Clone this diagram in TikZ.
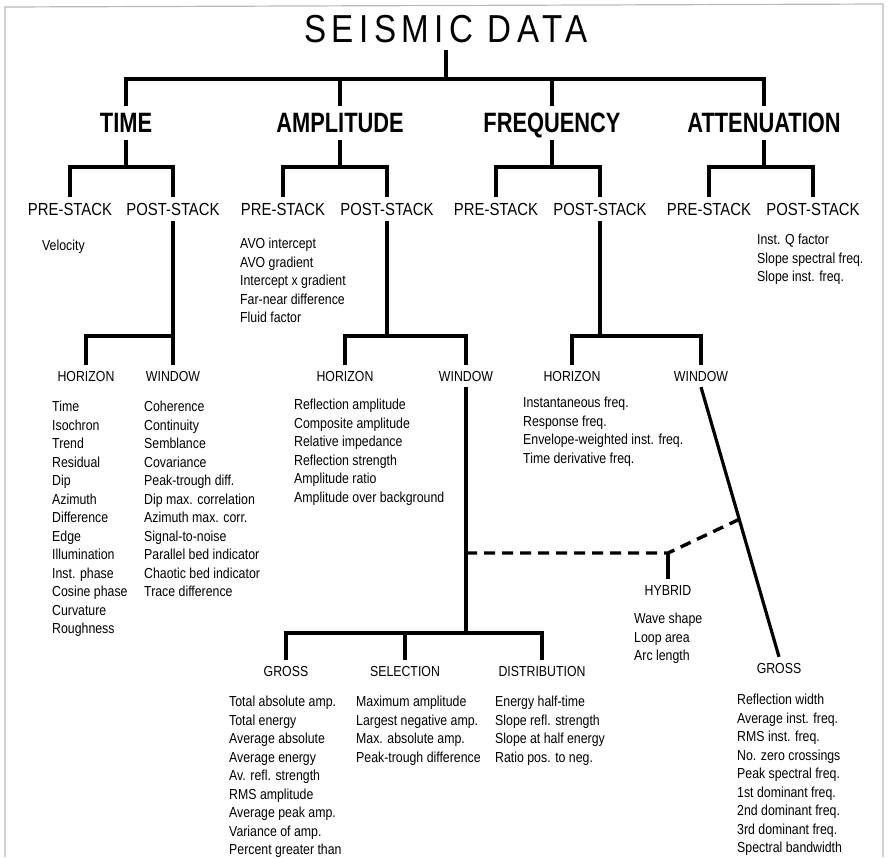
\documentclass[tikz,border=0pt]{standalone}
\usepackage{fontspec}
\setmainfont{Liberation Sans}[FakeStretch=0.85]
\newfontfamily\titlefont{Liberation Sans}[FakeStretch=0.85,LetterSpace=14]
\newfontfamily\catfont{Liberation Sans}[FakeStretch=0.78]
\usetikzlibrary{calc}
\begin{document}
\begin{tikzpicture}[x=1pt,y=-1pt,
    tree/.style={line width=3.2pt},
    link/.style={line width=3.4pt,dash pattern=on 11pt off 7pt},
    cat/.style={font=\catfont\bfseries\fontsize{28}{30}\selectfont,inner sep=0pt,outer sep=7pt,text depth=0pt},
    stack/.style={font=\fontsize{17.5}{20}\selectfont,inner sep=0pt,outer sep=6pt},
    sub/.style={font=\fontsize{14.5}{18.5}\selectfont,inner sep=0pt,outer sep=6pt},
    lst/.style={font=\fontsize{14.5}{18.5}\selectfont,inner sep=0pt,anchor=north west,align=left}]
    \useasboundingbox (0,0) rectangle (890,857);
    % scanned page edges
    \draw[gray!55,line width=1.2pt] (5,857) -- (5,7) -- (883,4) -- (883,857);
    % bar heights
    \coordinate (bar1) at (0,79);
    \coordinate (bar2) at (0,167);
    \coordinate (bar3) at (0,336);
    \coordinate (bar4) at (0,633);
    % title and the four attribute families
    \node[inner sep=0pt,outer sep=7pt,font=\titlefont\fontsize{39}{42}\selectfont] (title) at (446,29) {SEISMIC DATA};
    \node[cat] (time)  at (126,123) {TIME};
    \node[cat] (amp)   at (340,123) {AMPLITUDE};
    \node[cat] (freq)  at (552,123) {FREQUENCY};
    \node[cat] (atten) at (764,123) {ATTENUATION};
    \draw[tree] (title.south) -- (title |- bar1);
    \draw[tree] (time.north) -- (time |- bar1) -- (atten |- bar1) -- (atten.north);
    \draw[tree] (amp.north) -- (amp |- bar1);
    \draw[tree] (freq.north) -- (freq |- bar1);
    % pre-stack / post-stack
    \node[stack] (timepre)   at (70,209)  {PRE-STACK};
    \node[stack] (timepost)  at (173,209) {POST-STACK};
    \node[stack] (amppre)    at (283,209) {PRE-STACK};
    \node[stack] (amppost)   at (387,209) {POST-STACK};
    \node[stack] (freqpre)   at (496,209) {PRE-STACK};
    \node[stack] (freqpost)  at (600,209) {POST-STACK};
    \node[stack] (attenpre)  at (709,209) {PRE-STACK};
    \node[stack] (attenpost) at (813,209) {POST-STACK};
    \foreach \fam in {time,amp,freq,atten} {
        \draw[tree] (\fam.south) -- (\fam |- bar2);
        \draw[tree] (\fam pre.north) -- (\fam pre |- bar2) -- (\fam post |- bar2) -- (\fam post.north);
    }
    % lists under the stack labels
    \node[lst] (vel) at (42,239.8) {Velocity};
    \node[lst] (avo) at (240,237.8) {AVO intercept\\AVO gradient\\Intercept x gradient\\Far-near difference\\Fluid factor};
    \node[lst] (qlist) at (757,233.8) {Inst. Q factor\\Slope spectral freq.\\Slope inst. freq.};
    % horizon / window
    \node[sub] (timehor) at (86,376)  {HORIZON};
    \node[sub] (timewin) at (173,376) {WINDOW};
    \node[sub] (amphor)  at (345,376) {HORIZON};
    \node[sub] (ampwin)  at (466,376) {WINDOW};
    \node[sub] (freqhor) at (572,376) {HORIZON};
    \node[sub] (freqwin) at (701,376) {WINDOW};
    \draw[tree] (timepost.south) -- (timewin.north);
    \draw[tree] (timehor.north) -- (timehor |- bar3) -- (timewin |- bar3);
    \draw[tree] (amppost.south) -- (amppost |- bar3);
    \draw[tree] (amphor.north) -- (amphor |- bar3) -- (ampwin |- bar3) -- (ampwin.north);
    \draw[tree] (freqpost.south) -- (freqpost |- bar3);
    \draw[tree] (freqhor.north) -- (freqhor |- bar3) -- (freqwin |- bar3) -- (freqwin.north);
    \node[lst] (timehorlist) at (52,400.8) {Time\\Isochron\\Trend\\Residual\\Dip\\Azimuth\\Difference\\Edge\\Illumination\\Inst. phase\\Cosine phase\\Curvature\\Roughness};
    \node[lst] (timewinlist) at (144,400.8) {Coherence\\Continuity\\Semblance\\Covariance\\Peak-trough diff.\\Dip max. correlation\\Azimuth max. corr.\\Signal-to-noise\\Parallel bed indicator\\Chaotic bed indicator\\Trace difference};
    \node[lst] (amphorlist) at (294,398.8) {Reflection amplitude\\Composite amplitude\\Relative impedance\\Reflection strength\\Amplitude ratio\\Amplitude over background};
    \node[lst] (freqhorlist) at (523,396.8) {Instantaneous freq.\\Response freq.\\Envelope-weighted inst. freq.\\Time derivative freq.};
    % amplitude window split
    \node[sub] (gross)  at (286,671) {GROSS};
    \node[sub] (select) at (405,671) {SELECTION};
    \node[sub] (distr)  at (542,671) {DISTRIBUTION};
    \draw[tree] (ampwin.south) -- (ampwin |- bar4);
    \draw[tree] (gross.north) -- (gross |- bar4) -- (distr |- bar4) -- (distr.north);
    \draw[tree] (select.north) -- (select |- bar4);
    \node[lst] (grosslist) at (229,695.8) {Total absolute amp.\\Total energy\\Average absolute\\Average energy\\Av. refl. strength\\RMS amplitude\\Average peak amp.\\Variance of amp.\\Percent greater than};
    \node[lst] (selectlist) at (356,695.8) {Maximum amplitude\\Largest negative amp.\\Max. absolute amp.\\Peak-trough difference};
    \node[lst] (distrlist) at (495,695.8) {Energy half-time\\Slope refl. strength\\Slope at half energy\\Ratio pos. to neg.};
    % frequency window and the hybrid link
    \node[sub] (fgross) at (779,668) {GROSS};
    \node[sub] (hybrid) at (668,590) {HYBRID};
    \draw[tree] (freqwin.south) -- (fgross.north);
    \coordinate (knee) at ($(freqwin.south)!0.49!(fgross.north)$);
    \coordinate (dashstart) at (ampwin |- 0,553);
    \draw[link] (dashstart) -- (hybrid |- dashstart) -- (knee);
    \draw[tree] (hybrid.north) -- (hybrid |- dashstart);
    \node[lst] (hybridlist) at (634,612.8) {Wave shape\\Loop area\\Arc length};
    \node[lst] (fgrosslist) at (737,693.8) {Reflection width\\Average inst. freq.\\RMS inst. freq.\\No. zero crossings\\Peak spectral freq.\\1st dominant freq.\\2nd dominant freq.\\3rd dominant freq.\\Spectral bandwidth};
\end{tikzpicture}
\end{document}
